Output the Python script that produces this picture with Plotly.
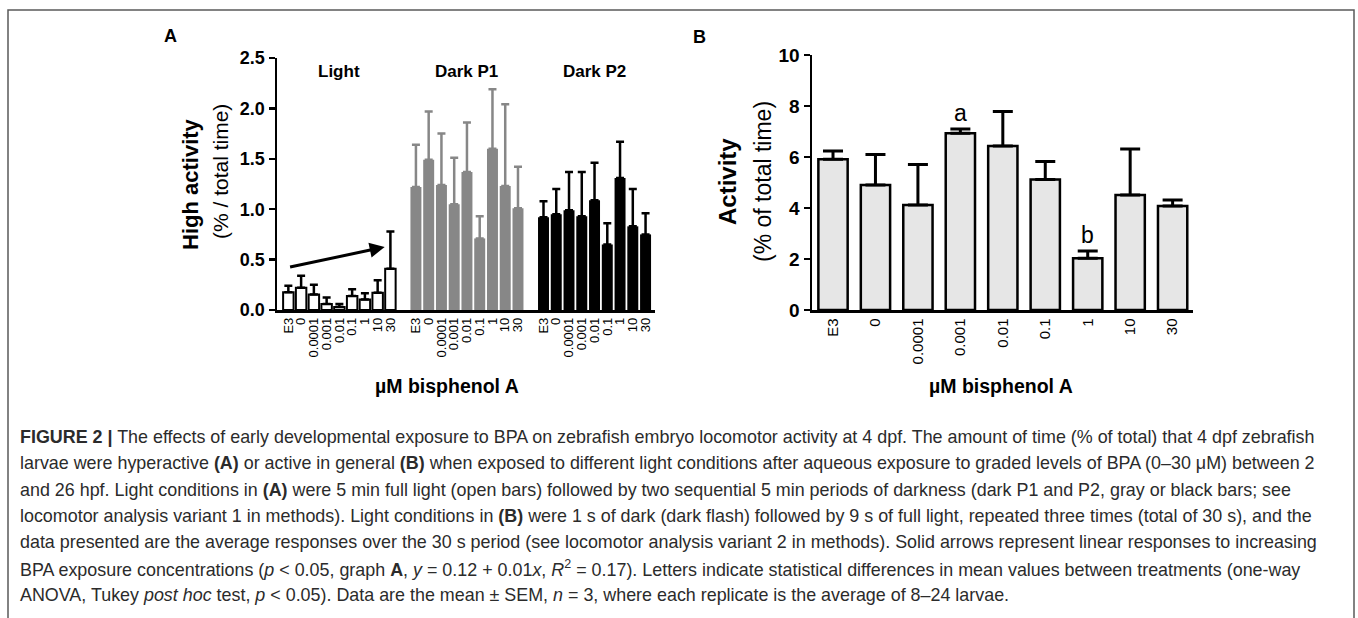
import plotly.graph_objects as go

# ---------------- data ----------------
conc = ["E3", "0", "0.0001", "0.001", "0.01", "0.1", "1", "10", "30"]
groups = ["Light", "Dark P1", "Dark P2"]

light_mean = [0.175, 0.22, 0.155, 0.06, 0.03, 0.14, 0.105, 0.17, 0.41]
light_sem = [0.065, 0.12, 0.095, 0.065, 0.03, 0.065, 0.06, 0.125, 0.37]
dark1_mean = [1.22, 1.49, 1.24, 1.05, 1.37, 0.71, 1.60, 1.23, 1.01]
dark1_sem = [0.42, 0.48, 0.51, 0.46, 0.49, 0.22, 0.59, 0.81, 0.41]
dark2_mean = [0.92, 0.95, 0.99, 0.93, 1.09, 0.65, 1.31, 0.83, 0.75]
dark2_sem = [0.16, 0.25, 0.38, 0.44, 0.37, 0.21, 0.36, 0.37, 0.21]

activity_mean = [5.91, 4.90, 4.12, 6.93, 6.43, 5.12, 2.03, 4.51, 4.08]
activity_sem = [0.33, 1.20, 1.59, 0.17, 1.35, 0.70, 0.28, 1.80, 0.23]
letters = ["", "", "", "a", "", "", "b", "", ""]

# trend arrow in panel A (bar-index units, y units)
trend_x = [-0.1, 7.55]
trend_y = [0.42, 0.625]

yticks_a = [0.0, 0.5, 1.0, 1.5, 2.0, 2.5]
yticks_b = [0, 2, 4, 6, 8, 10]

caption_lines = [
    "<b>FIGURE 2 |</b> The effects of early developmental exposure to BPA on zebrafish embryo locomotor activity at 4 dpf. The amount of time (% of total) that 4 dpf zebrafish",
    "larvae were hyperactive <b>(A)</b> or active in general <b>(B)</b> when exposed to different light conditions after aqueous exposure to graded levels of BPA (0–30 μM) between 2",
    "and 26 hpf. Light conditions in <b>(A)</b> were 5 min full light (open bars) followed by two sequential 5 min periods of darkness (dark P1 and P2, gray or black bars; see",
    "locomotor analysis variant 1 in methods). Light conditions in <b>(B)</b> were 1 s of dark (dark flash) followed by 9 s of full light, repeated three times (total of 30 s), and the",
    "data presented are the average responses over the 30 s period (see locomotor analysis variant 2 in methods). Solid arrows represent linear responses to increasing",
    "BPA exposure concentrations (<i>p</i> &lt; 0.05, graph <b>A</b>, <i>y</i> = 0.12 + 0.01<i>x</i>, <i>R</i><sup>2</sup> = 0.17). Letters indicate statistical differences in mean values between treatments (one-way",
    "ANOVA, Tukey <i>post hoc</i> test, <i>p</i> &lt; 0.05). Data are the mean ± SEM, <i>n</i> = 3, where each replicate is the average of 8–24 larvae.",
]

# ---------------- layout helpers ----------------
W, H = 1358, 618
def px(x):
    return x / W
def py(y):
    return 1 - y / H

FONT = "Liberation Sans, Arial, sans-serif"

fig = go.Figure()

# ---------------- panel A ----------------
pos = [[g * 10 + i for i in range(len(conc))] for g in range(3)]
zeros = [0] * len(conc)

fig.add_trace(go.Bar(
    x=pos[0], y=light_mean, width=0.82,
    marker=dict(color="white", line=dict(color="black", width=2)),
    error_y=dict(type="data", symmetric=False, array=light_sem, arrayminus=zeros,
                 color="black", thickness=2.5, width=4),
    xaxis="x", yaxis="y", hoverinfo="skip"))
fig.add_trace(go.Bar(
    x=pos[1], y=dark1_mean, width=0.86,
    marker=dict(color="#878787", line=dict(width=0)),
    error_y=dict(type="data", symmetric=False, array=dark1_sem, arrayminus=zeros,
                 color="#878787", thickness=2.5, width=4),
    xaxis="x", yaxis="y", hoverinfo="skip"))
fig.add_trace(go.Bar(
    x=pos[2], y=dark2_mean, width=0.86,
    marker=dict(color="black", line=dict(width=0)),
    error_y=dict(type="data", symmetric=False, array=dark2_sem, arrayminus=zeros,
                 color="black", thickness=2.5, width=4),
    xaxis="x", yaxis="y", hoverinfo="skip"))

# ---------------- panel B ----------------
fig.add_trace(go.Bar(
    x=list(range(len(conc))), y=activity_mean, width=0.69,
    marker=dict(color="#e6e6e6", line=dict(color="black", width=2.5)),
    error_y=dict(type="data", symmetric=False, array=activity_sem, arrayminus=zeros,
                 color="black", thickness=3, width=10),
    xaxis="x2", yaxis="y2", hoverinfo="skip"))

axis_common = dict(showline=True, linecolor="black", linewidth=2.5, showgrid=False,
                   zeroline=False, fixedrange=True, automargin=False)

fig.update_layout(
    template="none",
    width=W, height=H, margin=dict(l=0, r=0, t=0, b=0, pad=0, autoexpand=False),
    paper_bgcolor="white", plot_bgcolor="white", showlegend=False,
    font=dict(family=FONT, color="black"),
    xaxis=dict(domain=[px(277), px(655)], range=[-0.89, 28.74], anchor="y",
               tickmode="array", tickvals=pos[0] + pos[1] + pos[2], ticktext=conc * 3,
               tickangle=-90, ticks="", tickfont=dict(size=13, family=FONT), **axis_common),
    yaxis=dict(domain=[py(310), py(58)], range=[0, 2.5], anchor="x",
               tickmode="array", tickvals=yticks_a, ticktext=[f"{v:.1f}" for v in yticks_a],
               ticks="outside", ticklen=6, tickwidth=2.5, tickcolor="black",
               tickfont=dict(size=18, family=FONT, weight="bold"), **axis_common),
    xaxis2=dict(domain=[px(812), px(1193)], range=[-0.495, 8.48], anchor="y2",
                tickmode="array", tickvals=list(range(len(conc))), ticktext=conc,
                tickangle=-90, ticks="", tickfont=dict(size=15, family=FONT), **axis_common),
    yaxis2=dict(domain=[py(310), py(55)], range=[0, 10], anchor="x2",
                tickmode="array", tickvals=yticks_b, ticktext=[str(v) for v in yticks_b],
                ticks="outside", ticklen=6, tickwidth=2.5, tickcolor="black",
                tickfont=dict(size=19, family=FONT, weight="bold"), **axis_common),
)

ann = []
def label(x, y, text, size, angle=0, xref="paper", yref="paper", **kw):
    d = dict(x=x, y=y, xref=xref, yref=yref, text=text, showarrow=False, textangle=angle,
             xanchor="center", yanchor="middle", font=dict(size=size, family=FONT, color="black"))
    d.update(kw)
    return d

# group labels
for g, name in enumerate(groups):
    ann.append(label(g * 10 + 4, py(72), f"<b>{name}</b>", 17, xref="x"))
# trend arrow
ann.append(dict(x=trend_x[1], y=trend_y[1], ax=trend_x[0], ay=trend_y[0],
                xref="x", yref="y", axref="x", ayref="y", text=" ", showarrow=True,
                arrowhead=2, arrowsize=1, arrowwidth=3, arrowcolor="black"))
# letters in panel B
for i, t in enumerate(letters):
    if t:
        ann.append(label(i, activity_mean[i] + activity_sem[i], t, 23, xref="x2", yref="y2",
                         yanchor="bottom", yshift=1))
# y-axis titles
ann += [
    label(px(190), py(184), "<b>High activity</b>", 22, angle=-90),
    label(px(220), py(172), "(% / total time)", 21, angle=-90),
    label(px(728), py(182), "<b>Activity</b>", 24, angle=-90),
    label(px(763), py(182), "(% of total time)", 23, angle=-90),
]
# x-axis titles
for cx in (447, 1001):
    ann.append(label(px(cx), py(386), "<b>µM bisphenol A</b>", 19.5))
# panel letters
ann.append(label(px(170), py(36), "<b>A</b>", 18))
ann.append(label(px(700), py(37), "<b>B</b>", 18))
# caption
for k, line in enumerate(caption_lines):
    ann.append(dict(x=px(18), y=py(437 + 26.3 * k), xref="paper", yref="paper", text=line,
                    showarrow=False, xanchor="left", yanchor="middle", align="left",
                    font=dict(size=17.9, family=FONT, color="#2b2b2b")))

fig.update_layout(annotations=ann)

# frame around the figure
fig.add_shape(type="rect", xref="paper", yref="paper", x0=px(8), x1=px(1354), y0=-0.3, y1=py(10),
              line=dict(color="#5a5a5a", width=1.5), fillcolor="rgba(0,0,0,0)", layer="above")

fig.write_html("out.html", config={"displayModeBar": False, "staticPlot": True},
               post_script="document.body.style.margin='0px';document.body.style.overflow='hidden';")
